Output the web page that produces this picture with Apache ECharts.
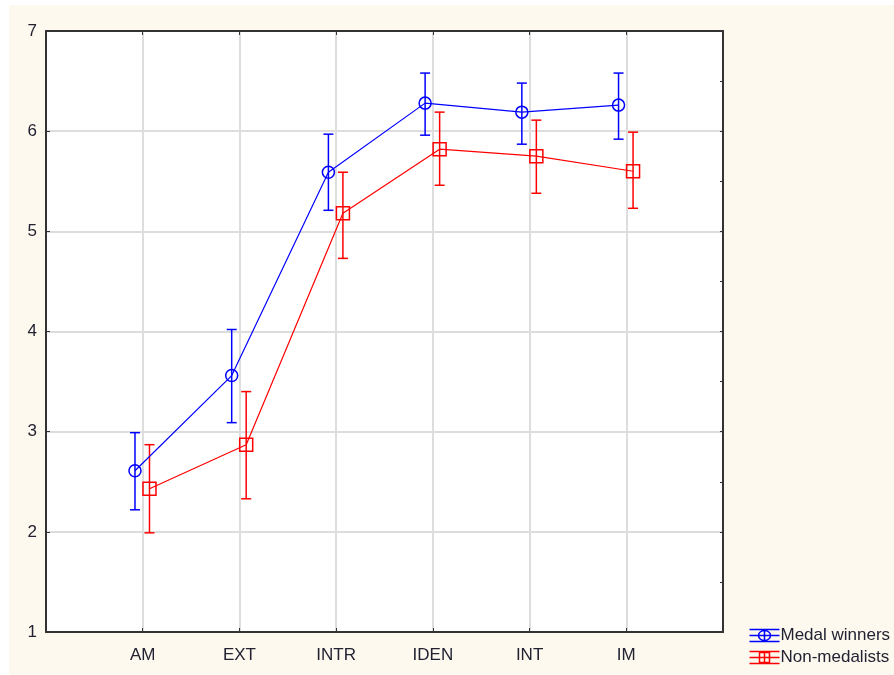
<!DOCTYPE html>
<html><head><meta charset="utf-8">
<script src="https://cdn.jsdelivr.net/npm/echarts@6/dist/echarts.min.js"></script>
<style>html,body{margin:0;padding:0;background:#fff}#c{width:894px;height:675px}</style>
</head><body><div id="c"></div>
<script>
const categories = ['AM', 'EXT', 'INTR', 'IDEN', 'INT', 'IM'];
const yTicks = [1, 2, 3, 4, 5, 6, 7];
const seriesNames = ['Medal winners', 'Non-medalists'];
const medalMean = [2.61, 3.56, 5.59, 6.28, 6.19, 6.26];
const medalLow  = [2.22, 3.09, 5.21, 5.96, 5.87, 5.92];
const medalHigh = [2.99, 4.02, 5.97, 6.58, 6.48, 6.58];
const nonMean = [2.43, 2.87, 5.18, 5.82, 5.75, 5.60];
const nonLow  = [1.99, 2.33, 4.73, 5.46, 5.38, 5.23];
const nonHigh = [2.87, 3.40, 5.59, 6.19, 6.11, 5.99];
const offsets = [-0.08, 0.07];
const colors = ['#0000ff', '#ff0000'];

const chart = echarts.init(document.getElementById('c'), null, {renderer: 'canvas'});

function pts(mean, off) { return mean.map((v, i) => [i + 1 + off, v]); }
function errs(low, high, off) { return low.map((v, i) => [i + 1 + off, v, high[i]]); }

function errSeries(name, data, color) {
  return {
    type: 'custom', name: name, data: data, z: 3,
    renderItem: function (params, api) {
      const x = api.value(0);
      const lo = api.coord([x, api.value(1)]);
      const hi = api.coord([x, api.value(2)]);
      const w = 5;
      const st = {stroke: color, lineWidth: 1.5};
      return {type: 'group', children: [
        {type: 'line', shape: {x1: lo[0], y1: lo[1], x2: hi[0], y2: hi[1]}, style: st},
        {type: 'line', shape: {x1: lo[0] - w, y1: lo[1], x2: lo[0] + w, y2: lo[1]}, style: st},
        {type: 'line', shape: {x1: hi[0] - w, y1: hi[1], x2: hi[0] + w, y2: hi[1]}, style: st}
      ]};
    },
    encode: {x: 0, y: [1, 2]}
  };
}

const iconMedal = 'path://M0,0 L30,0 M0,12 L30,12 M15,0 L15,12 M0,6 L30,6 M9,6 A6,5 0 1,0 21,6 A6,5 0 1,0 9,6';
const iconNon = 'path://M0,0 L30,0 M0,12 L30,12 M15,0 L15,12 M0,6 L30,6 M10,1 L20,1 L20,11 L10,11 Z';
const font = 'Liberation Sans, Arial';
const txt = '#222233';

chart.setOption({
  backgroundColor: '#ffffff',
  animation: false,
  graphic: [{type: 'rect', z: -10, shape: {x: 9, y: 5, width: 885, height: 670}, style: {fill: '#fdf9ee'}}],
  grid: {left: 46, top: 31, right: 171, bottom: 43, show: true, backgroundColor: '#ffffff', borderWidth: 0},
  legend: {
    orient: 'vertical', left: 742, top: 622, itemGap: 5, itemWidth: 30, itemHeight: 12,
    textStyle: {fontFamily: font, fontSize: 17, color: txt, padding: [0, 0, 0, -4]},
    data: [
      {name: seriesNames[0], icon: iconMedal, itemStyle: {color: 'none', borderColor: colors[0], borderWidth: 1.5}},
      {name: seriesNames[1], icon: iconNon, itemStyle: {color: 'none', borderColor: colors[1], borderWidth: 1.5}}
    ]
  },
  xAxis: [{
    type: 'value', min: 0, max: 7, interval: 1,
    axisLine: {show: true, onZero: false, lineStyle: {color: '#333', width: 2}},
    axisTick: {show: true, inside: true, length: 4, lineStyle: {color: '#333'}},
    axisLabel: {fontFamily: font, fontSize: 17, color: txt, margin: 15,
      formatter: v => (v >= 1 && v <= 6 ? categories[v - 1] : '')},
    splitLine: {show: true, lineStyle: {color: '#dddddd', width: 2}}
  }, {
    type: 'value', position: 'top', min: 0, max: 7, interval: 1,
    axisLine: {show: true, onZero: false, lineStyle: {color: '#333', width: 2}},
    axisTick: {show: true, inside: true, length: 4, lineStyle: {color: '#333'}},
    axisLabel: {show: false}, splitLine: {show: false}
  }],
  yAxis: [{
    type: 'value', position: 'left', min: 1, max: 7, interval: 1,
    axisLine: {show: true, onZero: false, lineStyle: {color: '#333', width: 2}},
    axisTick: {show: true, inside: true, length: 4, lineStyle: {color: '#333'}},
    axisLabel: {fontFamily: font, fontSize: 17, color: txt, margin: 9,
      formatter: v => (yTicks.indexOf(v) >= 0 ? String(v) : '')},
    splitLine: {show: true, lineStyle: {color: '#dddddd', width: 2}}
  }, {
    type: 'value', position: 'right', min: 1, max: 7, interval: 0.5, alignTicks: false,
    axisLine: {show: true, onZero: false, lineStyle: {color: '#333', width: 2}},
    axisTick: {show: true, inside: true, length: 3, lineStyle: {color: '#333'}},
    axisLabel: {show: false}, splitLine: {show: false}
  }],
  series: [
    errSeries(seriesNames[0], errs(medalLow, medalHigh, offsets[0]), colors[0]),
    errSeries(seriesNames[1], errs(nonLow, nonHigh, offsets[1]), colors[1]),
    {type: 'line', name: seriesNames[0], data: pts(medalMean, offsets[0]), z: 4,
     symbol: 'circle', symbolSize: 12, showAllSymbol: true,
     lineStyle: {color: colors[0], width: 1.2},
     itemStyle: {color: 'rgba(0,0,0,0)', borderColor: colors[0], borderWidth: 1.5}},
    {type: 'line', name: seriesNames[1], data: pts(nonMean, offsets[1]), z: 4,
     symbol: 'rect', symbolSize: 13, showAllSymbol: true,
     lineStyle: {color: colors[1], width: 1.2},
     itemStyle: {color: 'rgba(0,0,0,0)', borderColor: colors[1], borderWidth: 1.5}}
  ]
});
</script></body></html>
